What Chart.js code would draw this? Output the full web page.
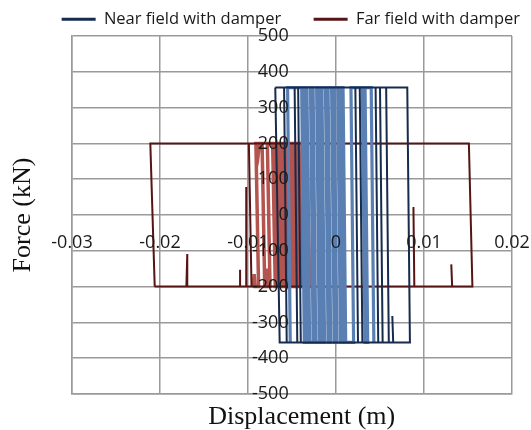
<!DOCTYPE html>
<html><head><meta charset="utf-8">
<script src="https://cdn.jsdelivr.net/npm/chart.js@4.4.1/dist/chart.umd.min.js"></script>
<style>html,body{margin:0;padding:0;background:#fff}canvas{display:block}</style>
</head><body>
<canvas id="c" width="531" height="430"></canvas>
<script>
// Tick values and labels
const xTickValues = [-0.03, -0.02, -0.01, 0, 0.01, 0.02];
const xTickLabels = ['-0.03', '-0.02', '-0.01', '0', '0.01', '0.02'];
const yTickValues = [-500, -400, -300, -200, -100, 0, 100, 200, 300, 400, 500];
const yTickLabels = ['-500', '-400', '-300', '-200', '-100', '0', '100', '200', '300', '400', '500'];

// Near field with damper: outer loop and dark reversals (displacement m, force kN)
const nearOuterDisp = [-0.0069, 0.0081, 0.0084, 0.0065, 0.0064, 0.0065, 0.0060, 0.0057, 0.0060, 0.0053, 0.0050, 0.0053, 0.0048, 0.0045, 0.0048, 0.0030, 0.0027, 0.0030, 0.0025, 0.0022, 0.0025, -0.0040, -0.0043, -0.0040, -0.0044, -0.0047, -0.0044, -0.0056, -0.0059, -0.0056, -0.0064, -0.0069];
const nearOuterForce = [356, 356, -356, -356, -282, -356, -356, 356, -356, -356, 356, -356, -356, 356, -356, -356, 356, -356, -356, 356, -356, -356, 356, -356, -356, 356, -356, -356, 356, -356, -356, 356];

// Near field with damper: dense inner cycles
const nearInnerDisp = [-0.0052, -0.0055, -0.0039, -0.0036, -0.0033, -0.0036, -0.0033, -0.0030, -0.0026, -0.0029, -0.0026, -0.0023, -0.0019, -0.0022, -0.0019, -0.0016, -0.0013, -0.0016, -0.0012, -0.0009, -0.0006, -0.0009, -0.0005, -0.0002, 0.0001, -0.0002, 0.0002, 0.0005, 0.0008, 0.0005, 0.0008, 0.0011, 0.0020, 0.0017, 0.0030, 0.0033, 0.0036, 0.0033, 0.0040, 0.0043];
const nearInnerForce = [-356, 356, 356, -356, -356, 356, 356, -356, -356, 356, 356, -356, -356, 356, 356, -356, -356, 356, 356, -356, -356, 356, 356, -356, -356, 356, 356, -356, -356, 356, 356, -356, -356, 356, 356, -356, -356, 356, 356, -356];

// Far field with damper: outer loop and dark spikes
const farOuterDisp = [-0.0206, -0.0211, 0.0151, 0.0155, 0.0132, 0.0131, 0.0132, 0.0089, 0.0088, 0.0089, -0.0096, -0.0099, -0.0096, -0.0102, -0.0102, -0.0102, -0.0109, -0.0109, -0.0109, -0.0169, -0.0169, -0.0170, -0.0206];
const farOuterForce = [-200, 200, 200, -200, -200, -138, -200, -200, 22, -200, -200, 200, -200, -200, 78, -200, -200, -153, -200, -200, -109, -200, -200];

// Far field with damper: dense inner cycles
const farInnerDisp = [-0.0094, -0.0093, -0.0092, -0.0088, -0.0091, -0.0089, -0.0088, -0.0087, -0.0084, -0.0081, -0.0079, -0.0078, -0.0077, -0.0075, -0.0078, -0.0072, -0.0069, -0.0066, -0.0069, -0.0066, -0.0063, -0.0059, -0.0062, -0.0059, -0.0056, -0.0052, -0.0055, -0.0052, -0.0049, -0.0045, -0.0048, -0.0045, -0.0042, -0.0039, -0.0042, -0.0037, -0.0034, -0.0030, -0.0033];
const farInnerForce = [-200, -165, -200, -200, 200, 200, 178, 200, 200, -200, -200, -150, -200, -200, 200, 200, -200, -200, 200, 200, -200, -200, 200, 200, -200, -200, 200, 200, -200, -200, 200, 200, -200, -200, 200, 200, -200, -200, 200];

const zip = (xs, ys) => xs.map((x, i) => ({x: x, y: ys[i]}));

const GRID = '#9a9a9a';
const NEAR_DARK = '#172b4d', NEAR_LIGHT = '#5a7fb3';
const FAR_DARK = '#561414', FAR_LIGHT = '#b4544f';
const TICK_FONT = {family: '"Open Sans", "Noto Sans", sans-serif', size: 18};

const ds = (label, xs, ys, color, width, inner) => ({
  label: label, data: zip(xs, ys), showLine: true, borderColor: color, backgroundColor: color,
  borderWidth: width, pointRadius: 0, pointHoverRadius: 0, tension: 0, inner: inner
});

const baseGen = Chart.defaults.plugins.legend.labels.generateLabels;

new Chart(document.getElementById('c'), {
  type: 'scatter',
  data: {
    datasets: [
      ds('Near field with damper', nearOuterDisp, nearOuterForce, NEAR_DARK, 2, false),
      ds('Near field inner', nearInnerDisp, nearInnerForce, NEAR_LIGHT, 3.2, true),
      ds('Far field with damper', farOuterDisp, farOuterForce, FAR_DARK, 2, false),
      ds('Far field inner', farInnerDisp, farInnerForce, FAR_LIGHT, 3.5, true)
    ]
  },
  options: {
    responsive: false,
    animation: false,
    devicePixelRatio: 1,
    layout: {padding: 0},
    plugins: {
      tooltip: {enabled: false},
      legend: {
        position: 'top',
        align: 'end',
        maxHeight: 36,
        labels: {
          boxWidth: 34, boxHeight: 3, padding: 11, color: '#1a1a1a',
          font: {family: '"Open Sans", "Noto Sans", sans-serif', size: 16.5},
          generateLabels: (chart) => baseGen(chart)
            .filter(it => !chart.data.datasets[it.datasetIndex].inner)
            .map((it, k) => Object.assign({}, it, {lineWidth: 0, text: k === 0 ? it.text + '     ' : it.text}))
        }
      }
    },
    scales: {
      x: {
        type: 'linear', position: 'bottom', min: -0.03, max: 0.02,
        afterBuildTicks: s => { s.ticks = xTickValues.map(v => ({value: v})); },
        grid: {color: GRID, lineWidth: 1.5, drawTicks: false},
        border: {color: GRID, width: 1.5},
        ticks: {display: false},
        title: {display: true, text: '   Displacement (m)', color: '#111',
          font: {family: '"Liberation Serif", "Times New Roman", serif', size: 26, lineHeight: 1},
          padding: {top: 0, bottom: 0}},
        afterFit: s => { s.height = 36; s.paddingLeft = 0; s.paddingRight = 0; }
      },
      y: {
        type: 'linear', position: 'left', weight: 1, min: -500, max: 500,
        afterBuildTicks: s => { s.ticks = yTickValues.map(v => ({value: v})); },
        grid: {color: GRID, lineWidth: 1.5, drawTicks: false},
        border: {color: GRID, width: 1.5},
        ticks: {display: false},
        title: {display: true, text: 'Force (kN)', color: '#111',
          font: {family: '"Liberation Serif", "Times New Roman", serif', size: 26, lineHeight: 1},
          padding: {top: 10, bottom: 0}},
        afterFit: s => { s.width = 72; s.paddingTop = 0; s.paddingBottom = 0; }
      },
      yr: {
        type: 'linear', axis: 'y', position: 'right', min: -500, max: 500,
        grid: {display: false, drawTicks: false},
        border: {display: false},
        ticks: {display: false},
        afterFit: s => { s.width = 19; s.paddingTop = 0; s.paddingBottom = 0; }
      },
      xl: {
        type: 'linear', axis: 'x', position: {y: 0}, min: -0.03, max: 0.02,
        afterBuildTicks: s => { s.ticks = xTickValues.map(v => ({value: v})); },
        grid: {display: false, drawTicks: false},
        border: {display: false},
        ticks: {autoSkip: false, maxRotation: 0, minRotation: 0, padding: 17, z: 1,
          color: '#1a1a1a', font: TICK_FONT, callback: (v, i) => xTickLabels[i]},
        afterFit: s => { s.height = 0; s.paddingLeft = 0; s.paddingRight = 0; }
      },
      yl: {
        type: 'linear', axis: 'y', position: 'left', weight: 0, min: -500, max: 500,
        afterBuildTicks: s => { s.ticks = yTickValues.map(v => ({value: v})); },
        grid: {display: false, drawTicks: false},
        border: {display: false},
        ticks: {autoSkip: false, mirror: true, crossAlign: 'far', padding: 180, z: 1,
          color: '#1a1a1a', font: TICK_FONT, callback: (v, i) => yTickLabels[i]},
        afterFit: s => { s.width = 0; s.paddingTop = 0; s.paddingBottom = 0; }
      }
    }
  }
});
</script>
</body></html>
